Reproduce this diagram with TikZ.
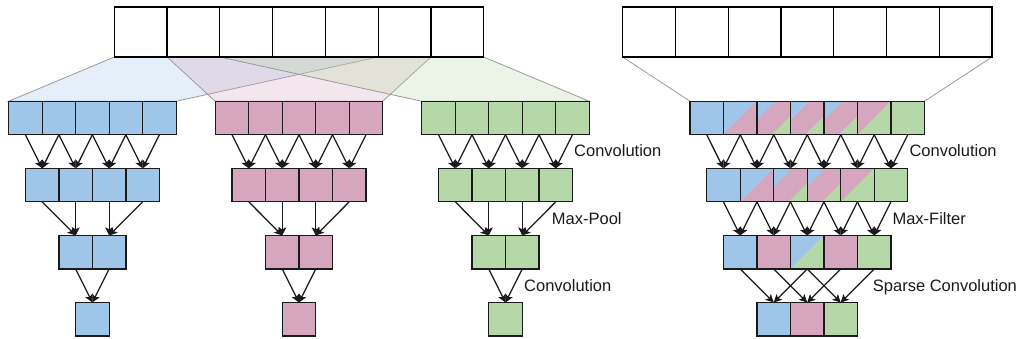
\documentclass[tikz,border=0pt]{standalone}
\usepackage{fontspec}
\setmainfont{Liberation Sans}
\usetikzlibrary{arrows.meta,calc}
\definecolor{cblue}{HTML}{9FC5E8}
\definecolor{cpink}{HTML}{D5A6BD}
\definecolor{cgreen}{HTML}{B6D7A8}
\definecolor{edgegray}{HTML}{9A9A9A}
\definecolor{ink}{HTML}{1A1A1A}
\pgfdeclarelayer{bg}
\pgfsetlayers{bg,main}
\tikzset{
  cell/.style={draw=ink, line width=1.2pt, minimum size=33.5pt, inner sep=0pt, outer sep=0pt},
  bl/.style={cell, fill=cblue},
  pk/.style={cell, fill=cpink},
  gr/.style={cell, fill=cgreen},
  bp/.style={cell, fill=cblue, path picture={\fill[cpink] (path picture bounding box.south west) -- (path picture bounding box.north east) -- (path picture bounding box.south east) -- cycle;}},
  pg/.style={cell, fill=cpink, path picture={\fill[cgreen] (path picture bounding box.south west) -- (path picture bounding box.north east) -- (path picture bounding box.south east) -- cycle;}},
  bg/.style={cell, fill=cblue, path picture={\fill[cgreen] (path picture bounding box.south west) -- (path picture bounding box.north east) -- (path picture bounding box.south east) -- cycle;}},
  bpg/.style={cell, fill=cpink, path picture={
      \fill[cblue] (path picture bounding box.north west) -- ++(18.8pt,0pt) -- ++(-18.8pt,-18.8pt) -- cycle;
      \fill[cgreen] (path picture bounding box.south east) -- ++(-18.8pt,0pt) -- ++(18.8pt,18.8pt) -- cycle;}},
  topcell/.style={draw=black, line width=1.2pt, minimum width=52.77pt, minimum height=50pt, inner sep=0pt, outer sep=0pt, fill=white},
  arr/.style={-{Stealth[length=8pt,width=8pt,inset=1.8pt]}, line width=1.25pt, draw=ink},
  lbl/.style={anchor=base west, inner sep=0pt, text=ink, font=\fontsize{16.5pt}{19pt}\selectfont},
  trap/.style={fill opacity=0.28, draw=edgegray, line width=0.8pt, draw opacity=1},
  edgeline/.style={draw=edgegray, line width=0.8pt}
}
\begin{document}
\begin{tikzpicture}[x=1pt,y=-1pt]
\useasboundingbox (0,0) rectangle (1016,339);
% top arrays
\foreach \i in {1,...,7} {
  \node[topcell] (T\i) at ({299+(\i-4)*52.77}, 32) {};
  \node[topcell] (U\i) at ({807.35+(\i-4)*52.77}, 32) {};
}
% left pyramids
\foreach \p/\st/\cx in {A/bl/92.4, B/pk/299, C/gr/505.5} {
  \foreach \lev/\n/\yy in {1/5/118, 2/4/185.1, 3/2/252.2, 4/1/319.3} {
    \foreach \i in {1,...,\n} {
      \node[\st] (\p\lev-\i) at ({\cx+(\i-(\n+1)/2)*33.5}, \yy) {};
    }
  }
}
\foreach \p in {A,B,C} {
  \foreach \i [count=\j from 2] in {1,...,4} {
    \draw[arr] (\p1-\i.south) -- (\p2-\i.north);
    \draw[arr] (\p1-\j.south) -- (\p2-\i.north);
  }
  \draw[arr] (\p2-1.south) -- (\p3-1.north);
  \draw[arr] (\p2-2.south) -- (\p3-1.north);
  \draw[arr] (\p2-3.south) -- (\p3-2.north);
  \draw[arr] (\p2-4.south) -- (\p3-2.north);
  \draw[arr] (\p3-1.south) -- (\p4-1.north);
  \draw[arr] (\p3-2.south) -- (\p4-1.north);
}
% right pyramid
\foreach \st [count=\i] in {bl,bp,bpg,bpg,bpg,pg,gr}
  \node[\st] (R1-\i) at ({807.2+(\i-4)*33.5}, 118) {};
\foreach \st [count=\i] in {bl,bp,bpg,bpg,pg,gr}
  \node[\st] (R2-\i) at ({807.2+(\i-3.5)*33.5}, 185.1) {};
\foreach \st [count=\i] in {bl,pk,bg,pk,gr}
  \node[\st] (R3-\i) at ({807.2+(\i-3)*33.5}, 252.2) {};
\foreach \st [count=\i] in {bl,pk,gr}
  \node[\st] (R4-\i) at ({807.2+(\i-2)*33.5}, 319.3) {};
\foreach \i [count=\j from 2] in {1,...,6} {
  \draw[arr] (R1-\i.south) -- (R2-\i.north);
  \draw[arr] (R1-\j.south) -- (R2-\i.north);
}
\foreach \i [count=\j from 2] in {1,...,5} {
  \draw[arr] (R2-\i.south) -- (R3-\i.north);
  \draw[arr] (R2-\j.south) -- (R3-\i.north);
}
\foreach \i [evaluate=\i as \k using int(\i+2)] in {1,2,3} {
  \draw[arr] (R3-\i.south) -- (R4-\i.north);
  \draw[arr] (R3-\k.south) -- (R4-\i.north);
}
% trapezoids
\begin{pgfonlayer}{bg}
  \path[trap, fill=cblue] (T1.south west) -- (T5.south east) -- (A1-5.north east) -- (A1-1.north west) -- cycle;
  \path[trap, fill=cpink] (T2.south west) -- (T6.south east) -- (B1-5.north east) -- (B1-1.north west) -- cycle;
  \path[trap, fill=cgreen] (T3.south west) -- (T7.south east) -- (C1-5.north east) -- (C1-1.north west) -- cycle;
  \draw[edgeline] (U1.south west) -- (R1-1.north west);
  \draw[edgeline] (U7.south east) -- (R1-7.north east);
\end{pgfonlayer}
% labels
\node[lbl] (l1) at (574,157) {Convolution};
\node[lbl] (l2) at (551.7,224.5) {Max-Pool};
\node[lbl] (l3) at (524,291.5) {Convolution};
\node[lbl] (r1) at (909.3,157) {Convolution};
\node[lbl] (r2) at (892.3,224.5) {Max-Filter};
\node[lbl] (r3) at (872.7,291.5) {Sparse Convolution};
\end{tikzpicture}
\end{document}
